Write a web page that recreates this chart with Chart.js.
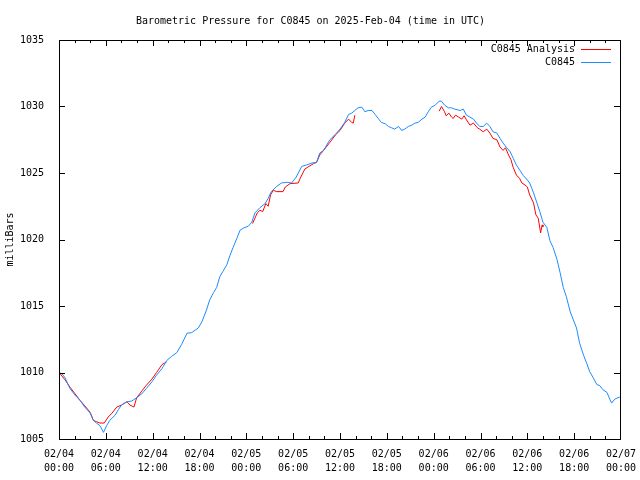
<!DOCTYPE html>
<html>
<head>
<meta charset="utf-8">
<style>
  html, body { margin: 0; padding: 0; background: #fff; }
  #wrap { width: 640px; height: 480px; }
</style>
<script src="https://cdn.jsdelivr.net/npm/chart.js"></script>
</head>
<body>
<div id="wrap"><canvas id="pressureChart" width="640" height="480"></canvas></div>
<script>
    // hours since 2025-02-04 00:00 UTC, pressure in mb
    const analysisHours = [
        0.0, 0.77, 1.4, 2.05, 2.7, 3.3, 4.0, 4.4, 4.8, 5.25, 5.8, 6.3, 6.8, 7.4, 8.0, 8.7, 9.1, 9.6,
        9.95, 10.6, 11.2, 11.9, 12.5, 13.2, 13.8,
        14.5,
        24.8, 25.1, 25.4, 25.75, 26.1, 26.5, 26.8, 27.1, 27.45, 27.9, 28.7, 29.0, 29.6, 30.65, 30.9,
        31.5, 31.9, 32.6, 33.0, 33.4, 33.9, 34.7, 35.4, 36.0, 36.6, 37.1, 37.5, 37.7, 37.9,
        40.0,
        48.7, 49.0, 49.4, 49.6, 49.95, 50.3, 50.5, 50.8, 51.2, 51.6, 51.9, 52.2, 52.65, 53.1, 53.6,
        53.9, 54.35, 54.8, 55.2, 55.6, 56.1, 56.5, 56.9, 57.2, 57.6, 57.9, 58.2, 58.6, 59.0, 59.3,
        59.7, 60.0, 60.3, 60.8, 61.1, 61.4, 61.7, 61.9, 62.0
    ];
    const analysisPressure = [
        1010.0, 1009.45, 1008.9, 1008.4, 1007.9, 1007.5, 1007.0, 1006.4, 1006.3, 1006.2, 1006.2, 1006.65,
        1006.95, 1007.4, 1007.55, 1007.8, 1007.55, 1007.4, 1008.1, 1008.6, 1009.05, 1009.5, 1010.0, 1010.6, 1010.8,
        null,
        1021.2, 1021.6, 1022.0, 1022.2, 1022.1, 1022.7, 1022.5, 1023.35, 1023.7, 1023.6, 1023.6, 1023.95,
        1024.2, 1024.25, 1024.6, 1025.3, 1025.45, 1025.7, 1025.8, 1026.35, 1026.7, 1027.3, 1027.85, 1028.2,
        1028.75, 1029.05, 1028.8, 1028.75, 1029.35,
        null,
        1029.65, 1030.0, 1029.6, 1029.3, 1029.5, 1029.2, 1029.1, 1029.35, 1029.2, 1029.05, 1029.3, 1029.0,
        1028.6, 1028.75, 1028.4, 1028.3, 1028.1, 1028.3, 1028.0, 1027.6, 1027.5, 1026.95, 1026.7, 1026.9,
        1026.35, 1026.0, 1025.4, 1024.85, 1024.6, 1024.25, 1024.1, 1023.95, 1023.35, 1022.75, 1021.85,
        1021.6, 1020.5, 1021.1, 1020.95
    ];

    const stationHours = [
        0.0, 0.4, 0.77, 1.4, 2.05, 2.7, 3.3, 4.0, 4.4, 4.8, 5.25, 5.7, 6.1, 6.5, 7.2, 7.6, 8.0, 8.7, 9.3,
        9.95, 10.6, 11.2, 11.9, 12.5, 13.2, 13.8, 14.4, 15.1, 15.7, 16.4, 17.0, 17.85, 18.3, 18.9, 19.3,
        19.8, 20.2, 20.6, 21.0, 21.5, 21.9, 22.3, 22.8, 23.2, 23.6, 24.25, 24.7, 25.1, 25.75, 26.4, 26.8,
        27.2, 27.9, 28.5, 29.2, 29.8, 30.4, 31.1, 31.7, 32.4, 33.0, 33.4, 33.9, 34.7, 35.4, 36.0, 36.6,
        37.1, 37.5, 37.9, 38.3, 38.8, 39.2, 39.6, 40.1, 40.5, 40.9, 41.3, 41.8, 42.2, 42.6, 43.0, 43.5,
        43.9, 44.3, 44.75, 45.2, 45.6, 46.0, 46.5, 46.9, 47.3, 47.7, 48.2, 48.7, 49.0, 49.4, 49.9, 50.3,
        50.7, 51.4, 51.8, 52.2, 52.65, 53.1, 53.5, 53.9, 54.35, 54.8, 55.2, 55.6, 56.1, 56.5, 56.9, 57.35,
        57.8, 58.2, 58.6, 59.05, 59.5, 59.9, 60.3, 60.8, 61.2, 61.6, 62.0, 62.5, 62.9, 63.3, 63.8, 64.2,
        64.6, 65.0, 65.5, 65.9, 66.3, 66.7, 67.2, 67.6, 68.0, 68.45, 68.9, 69.3, 69.7, 70.2, 70.6, 70.8,
        71.2, 71.8, 72.0
    ];
    const stationPressure = [
        1010.0, 1009.9, 1009.6, 1008.8, 1008.3, 1007.9, 1007.4, 1006.95, 1006.4, 1006.2, 1006.0, 1005.5,
        1006.0, 1006.4, 1006.8, 1007.2, 1007.55, 1007.8, 1007.85, 1008.1, 1008.4, 1008.8, 1009.3, 1009.8,
        1010.3, 1010.9, 1011.2, 1011.5, 1012.1, 1012.95, 1013.0, 1013.35, 1013.8, 1014.7, 1015.45, 1016.0,
        1016.4, 1017.2, 1017.6, 1018.1, 1018.8, 1019.4, 1020.1, 1020.7, 1020.85, 1021.0, 1021.3, 1022.0,
        1022.4, 1022.7, 1023.1, 1023.6, 1024.0, 1024.25, 1024.3, 1024.25, 1024.7, 1025.5, 1025.6, 1025.75,
        1025.8, 1026.5, 1026.7, 1027.5, 1027.9, 1028.3, 1028.8, 1029.4, 1029.5, 1029.7, 1029.9, 1029.95,
        1029.6, 1029.7, 1029.7, 1029.4, 1029.1, 1028.8, 1028.7, 1028.5, 1028.4, 1028.3, 1028.5, 1028.2,
        1028.3, 1028.5, 1028.6, 1028.75, 1028.8, 1029.05, 1029.2, 1029.6, 1029.95, 1030.1, 1030.4, 1030.4,
        1030.1, 1029.9, 1029.9, 1029.8, 1029.7, 1029.8, 1029.35, 1029.2, 1029.05, 1028.75, 1028.5, 1028.5,
        1028.75, 1028.5, 1028.1, 1028.0, 1027.6, 1027.25, 1026.9, 1026.6, 1026.1, 1025.6, 1025.2, 1024.8,
        1024.55, 1024.25, 1023.5, 1022.8, 1022.1, 1021.3, 1020.9, 1019.9, 1019.4, 1018.5, 1017.5, 1016.4,
        1015.7, 1014.55, 1013.95, 1013.35, 1012.2, 1011.3, 1010.7, 1010.05, 1009.6, 1009.1, 1009.0, 1008.7,
        1008.5, 1007.95, 1007.7, 1008.0, 1008.15, 1008.2
    ];

    const dayLabels = ['02/04', '02/05', '02/06', '02/07'];
    const FONT = 'DejaVu Sans Mono';

    function toPoints(hours, values) {
        return hours.map((h, i) => ({ x: h, y: values[i] }));
    }

    // gnuplot style frame: box with inward ticks on all four sides, plus a right-aligned key
    const framePlugin = {
        id: 'frame',
        afterDraw(chart) {
            const { ctx, chartArea: a, scales: { x, y } } = chart;
            ctx.save();
            ctx.strokeStyle = '#000';
            ctx.lineWidth = 1;
            ctx.strokeRect(Math.round(a.left) + 0.5, Math.round(a.top) + 0.5,
                Math.round(a.right - a.left) - 1, Math.round(a.bottom - a.top));
            ctx.beginPath();
            for (let h = 2; h < 72; h += 2) {
                const px = Math.round(x.getPixelForValue(h)) + 0.5;
                const len = h % 6 === 0 ? 6 : 3;
                ctx.moveTo(px, a.bottom); ctx.lineTo(px, a.bottom - len);
                ctx.moveTo(px, a.top); ctx.lineTo(px, a.top + len);
            }
            for (let v = 1010; v < 1035; v += 5) {
                const py = Math.round(y.getPixelForValue(v)) + 0.5;
                ctx.moveTo(a.left, py); ctx.lineTo(a.left + 6, py);
                ctx.moveTo(a.right - 1, py); ctx.lineTo(a.right - 7, py);
            }
            ctx.stroke();

            // key
            ctx.font = '10px "' + FONT + '"';
            ctx.textAlign = 'right';
            ctx.textBaseline = 'middle';
            ctx.fillStyle = '#000';
            chart.data.datasets.forEach((ds, i) => {
                const ky = Math.round(a.top) + 9 + i * 13;
                ctx.fillText(ds.label, a.right - 46, ky);
                ctx.strokeStyle = ds.borderColor;
                ctx.beginPath();
                ctx.moveTo(a.right - 40, ky + 0.5);
                ctx.lineTo(a.right - 10, ky + 0.5);
                ctx.stroke();
            });
            ctx.restore();
        }
    };

    const ctx = document.getElementById('pressureChart').getContext('2d');
    new Chart(ctx, {
        type: 'line',
        data: {
            datasets: [
                {
                    label: 'C0845 Analysis',
                    data: toPoints(analysisHours, analysisPressure),
                    borderColor: '#ff0000',
                    borderWidth: 1,
                    pointRadius: 0,
                    spanGaps: false,
                    order: 1
                },
                {
                    label: 'C0845',
                    data: toPoints(stationHours, stationPressure),
                    borderColor: '#1a8cff',
                    borderWidth: 1,
                    pointRadius: 0,
                    order: 0
                }
            ]
        },
        options: {
            responsive: false,
            animation: false,
            layout: { padding: { left: 0, right: 19, top: 0, bottom: 0 } },
            plugins: {
                legend: { display: false },
                tooltip: { enabled: false },
                title: {
                    display: true,
                    text: 'Barometric Pressure for C0845 on 2025-Feb-04 (time in UTC)',
                    color: '#000',
                    font: { family: FONT, size: 10, weight: 'normal', lineHeight: 1.2 },
                    padding: { top: 15, bottom: 13 }
                }
            },
            scales: {
                x: {
                    type: 'linear',
                    min: 0,
                    max: 72,
                    grid: { display: false },
                    border: { display: false },
                    afterFit: s => { s.height = 41; s.paddingLeft = 0; s.paddingRight = 0; },
                    ticks: {
                        stepSize: 6,
                        autoSkip: false,
                        maxRotation: 0,
                        padding: 0,
                        color: '#000',
                        font: { family: FONT, size: 10, lineHeight: 1.4 },
                        callback: v => {
                            const day = dayLabels[Math.floor(v / 24)];
                            const hr = String(v % 24).padStart(2, '0');
                            return [day, hr + ':00'];
                        }
                    }
                },
                y: {
                    min: 1005,
                    max: 1035,
                    grid: { display: false },
                    border: { display: false },
                    afterFit: s => { s.width = 59; },
                    title: {
                        display: true,
                        text: 'milliBars',
                        color: '#000',
                        font: { family: FONT, size: 10, lineHeight: 1.2 },
                        padding: { top: 4, bottom: 0 }
                    },
                    ticks: {
                        stepSize: 5,
                        padding: 7,
                        color: '#000',
                        font: { family: FONT, size: 10 },
                        callback: v => String(v)
                    }
                }
            }
        },
        plugins: [framePlugin]
    });
</script>
</body>
</html>
